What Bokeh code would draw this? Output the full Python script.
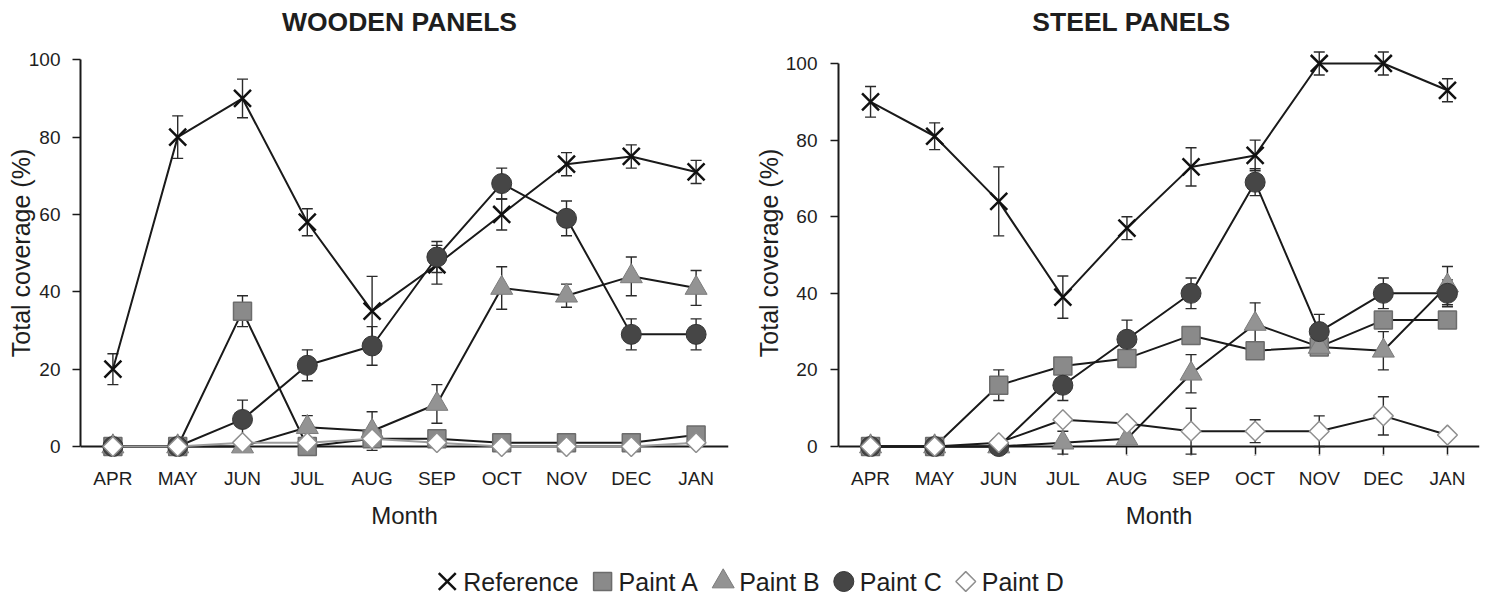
import math
from bokeh.plotting import figure
from bokeh.models import (ColumnDataSource, FactorRange, Range1d, Whisker, TeeHead,
                          FixedTicker, CategoricalAxis)
from bokeh.layouts import column, row
from bokeh.embed import file_html
from bokeh.resources import INLINE
from bokeh.core.properties import value

# ---------------- data ----------------
months = ["APR", "MAY", "JUN", "JUL", "AUG", "SEP", "OCT", "NOV", "DEC", "JAN"]
series_names = ["Reference", "Paint A", "Paint B", "Paint C", "Paint D"]

# Wooden panels
wood_ref = [20, 80, 90, 58, 35, 47, 60, 73, 75, 71]
wood_ref_err = [4, 5.5, 5, 3.5, 9, 5, 4, 3, 3, 3]
wood_a = [0, 0, 35, 0, 2, 2, 1, 1, 1, 3]
wood_a_err = [0, 0, 4, 0, 0, 0, 0, 0, 0, 0]
wood_b = [0, 0, 0, 5, 4, 11, 41, 39, 44, 41]
wood_b_err = [0, 0, 0, 3, 5, 5, 5.5, 3, 5, 4.5]
wood_c = [0, 0, 7, 21, 26, 49, 68, 59, 29, 29]
wood_c_err = [0, 0, 5, 4, 5, 4, 4, 4.5, 4, 4]
wood_d = [0, 0, 1, 1, 2, 1, 0, 0, 0, 1]
wood_d_err = [0, 0, 0, 0, 0, 0, 0, 0, 0, 0]

# Steel panels
steel_ref = [90, 81, 64, 39, 57, 73, 76, 100, 100, 93]
steel_ref_err = [4, 3.5, 9, 5.5, 3, 5, 4, 3, 3, 3]
steel_a = [0, 0, 16, 21, 23, 29, 25, 26, 33, 33]
steel_a_err = [0, 0, 4, 0, 0, 0, 0, 0, 0, 0]
steel_b = [0, 0, 0, 1, 2, 19, 32, 26, 25, 42]
steel_b_err = [0, 0, 0, 3, 0, 5, 5.5, 0, 5, 5]
steel_c = [0, 0, 0, 16, 28, 40, 69, 30, 40, 40]
steel_c_err = [0, 0, 0, 4, 5, 4, 3.5, 4.5, 4, 3.5]
steel_d = [0, 0, 1, 7, 6, 4, 4, 4, 8, 3]
steel_d_err = [0, 0, 0, 0, 0, 6, 3, 4, 5, 0]

y_ticks = [0, 20, 40, 60, 80, 100]

# ---------------- styles ----------------
FONT = "Liberation Sans"
TEXT = "#1e1e1e"
LINE = "#1a1a1a"

marker_styles = {
    "Reference": dict(marker="x", size=24, line_color="#111111", line_width=2.5, angle=0),
    "Paint A": dict(marker="square", size=18, fill_color="#8a8a8a", line_color="#6c6c6c", line_width=1.5, angle=0),
    "Paint B": dict(marker="triangle", size=22, fill_color="#939393", line_color="#7c7c7c", line_width=1, angle=0),
    "Paint C": dict(marker="circle", size=20, fill_color="#464646", line_color="#353535", line_width=1, angle=0),
    "Paint D": dict(marker="square", size=14, fill_color="#ffffff", line_color="#8f8f8f", line_width=1.5, angle=math.pi / 4),
}

# approximate Arial/Liberation Sans advance widths (per 1000 em), used to place texts
char_w = {"R": 722, "e": 556, "f": 278, "r": 333, "n": 556, "c": 500, "P": 667,
          "a": 556, "i": 222, "t": 278, " ": 278, "A": 667, "B": 667, "C": 722, "D": 722}
char_w_bold = {"W": 944, "O": 778, "D": 722, "E": 667, "N": 722, " ": 278, "P": 667,
               "A": 722, "L": 611, "S": 667, "T": 611}


def text_width(s, px, table):
    return sum(table.get(ch, 600) for ch in s) * px / 1000.0


TITLE_PX = 26.5


def make_panel(title, vals, errs, y_start, y_end, bl, br, frame_w, title_center,
               ticks_on, d_line_color, tick_standoff, label_standoff):
    width = bl + frame_w + br
    p = figure(width=width, height=547,
               x_range=FactorRange(factors=months),
               y_range=Range1d(y_start, y_end),
               output_backend="svg", toolbar_location=None,
               min_border_left=bl, min_border_right=br,
               min_border_top=40, min_border_bottom=82)
    p.xgrid.visible = False
    p.ygrid.visible = False
    p.outline_line_color = None

    # title
    p.title.text = title
    p.title.align = "left"
    p.title.offset = title_center - bl - text_width(title, TITLE_PX, char_w_bold) / 2
    p.title.text_font = FONT
    p.title.text_font_size = f"{TITLE_PX}px"
    p.title.text_font_style = "bold"
    p.title.text_color = TEXT
    p.title.standoff = 8

    # y axis
    ya = p.yaxis[0]
    ya.ticker = FixedTicker(ticks=y_ticks)
    ya.bounds = (0, 100)
    ya.axis_line_width = 2
    ya.axis_line_color = LINE
    ya.major_tick_in = 0
    ya.major_tick_out = 8
    ya.major_tick_line_width = 1.5
    ya.major_tick_line_color = LINE
    ya.minor_tick_line_color = None
    ya.major_label_text_font = FONT
    ya.major_label_text_font_size = "19px"
    ya.major_label_text_color = TEXT
    ya.major_label_standoff = tick_standoff
    ya.axis_label = "Total coverage (%)"
    ya.axis_label_text_font = FONT
    ya.axis_label_text_font_size = "25px"
    ya.axis_label_text_font_style = "normal"
    ya.axis_label_text_color = TEXT
    ya.axis_label_standoff = label_standoff

    # x axis: month labels and axis title at the frame bottom
    xa = p.xaxis[0]
    xa.axis_line_color = None
    xa.major_tick_line_color = None
    xa.major_tick_in = 0
    xa.major_tick_out = 0
    xa.major_label_standoff = 2
    xa.major_label_text_font = FONT
    xa.major_label_text_font_size = "19px"
    xa.major_label_text_color = TEXT
    xa.axis_label = "Month"
    xa.axis_label_text_font = FONT
    xa.axis_label_text_font_size = "24px"
    xa.axis_label_text_font_style = "normal"
    xa.axis_label_text_color = TEXT
    xa.axis_label_standoff = 10

    # x axis line and tick marks at y = 0, beneath the markers
    za = CategoricalAxis(fixed_location=0, level="underlay",
                         axis_line_width=2, axis_line_color=LINE,
                         major_tick_in=0, major_tick_out=8 if ticks_on else 0,
                         major_tick_line_width=1.5,
                         major_tick_line_color=LINE if ticks_on else None,
                         major_label_overrides={m: "" for m in months},
                         major_label_text_font_size="1px",
                         major_label_standoff=0)
    p.add_layout(za, "below")

    # error bars
    for name in series_names:
        v, e = vals[name], errs[name]
        xs = [m for m, ee in zip(months, e) if ee > 0]
        lo = [vv - ee for vv, ee in zip(v, e) if ee > 0]
        hi = [vv + ee for vv, ee in zip(v, e) if ee > 0]
        if not xs:
            continue
        src = ColumnDataSource(dict(x=xs, lower=lo, upper=hi))
        w = Whisker(base="x", lower="lower", upper="upper", source=src,
                    dimension="height", line_width=1.4, line_color="#2a2a2a",
                    upper_head=TeeHead(size=11, line_width=1.4, line_color="#2a2a2a"),
                    lower_head=TeeHead(size=11, line_width=1.4, line_color="#2a2a2a"))
        p.add_layout(w)

    # connecting lines
    for name in series_names:
        color = d_line_color if name == "Paint D" else LINE
        p.line(months, vals[name], line_color=color, line_width=2)

    # markers
    for name in series_names:
        p.scatter(months, vals[name], **marker_styles[name])
    return p


wood_vals = {"Reference": wood_ref, "Paint A": wood_a, "Paint B": wood_b,
             "Paint C": wood_c, "Paint D": wood_d}
wood_errs = {"Reference": wood_ref_err, "Paint A": wood_a_err, "Paint B": wood_b_err,
             "Paint C": wood_c_err, "Paint D": wood_d_err}
steel_vals = {"Reference": steel_ref, "Paint A": steel_a, "Paint B": steel_b,
              "Paint C": steel_c, "Paint D": steel_d}
steel_errs = {"Reference": steel_ref_err, "Paint A": steel_a_err, "Paint B": steel_b_err,
              "Paint C": steel_c_err, "Paint D": steel_d_err}

p1 = make_panel("WOODEN PANELS", wood_vals, wood_errs, -4.91, 104.99,
                bl=80, br=18, frame_w=648, title_center=400, ticks_on=False,
                d_line_color="#9c9c9c", tick_standoff=12, label_standoff=-9)
p2 = make_panel("STEEL PANELS", steel_vals, steel_errs, -4.96, 106.0,
                bl=92, br=13, frame_w=641, title_center=1132 - 746, ticks_on=True,
                d_line_color=LINE, tick_standoff=13, label_standoff=0)

# ---------------- legend row ----------------
LEG_W, LEG_H = 1492, 54
leg = figure(width=LEG_W, height=LEG_H, x_range=Range1d(0, LEG_W), y_range=Range1d(0, LEG_H),
             output_backend="svg", toolbar_location=None,
             x_axis_location=None, y_axis_location=None,
             min_border=0, min_border_left=0, min_border_right=0,
             min_border_top=0, min_border_bottom=0)
leg.xgrid.visible = False
leg.ygrid.visible = False
leg.outline_line_color = None

LEG_FONT_PX = 25
item_w = [27 + text_width(n, LEG_FONT_PX, char_w) for n in series_names]
total = sum(item_w) + 13 * (len(series_names) - 1)
cursor = 749.5 - total / 2
leg_y = 20
text_x = []
for name, iw in zip(series_names, item_w):
    leg.scatter([cursor + 11], [leg_y], **marker_styles[name])
    text_x.append(cursor + 27)
    cursor += iw + 13
leg.text(x=text_x, y=[leg_y] * len(series_names), text=series_names,
         text_font=value(FONT), text_font_size=value(f"{LEG_FONT_PX}px"), text_color=TEXT,
         text_baseline="middle", text_align="left")

layout = column(row(p1, p2), leg)
open("out.html", "w").write(file_html(layout, INLINE))
